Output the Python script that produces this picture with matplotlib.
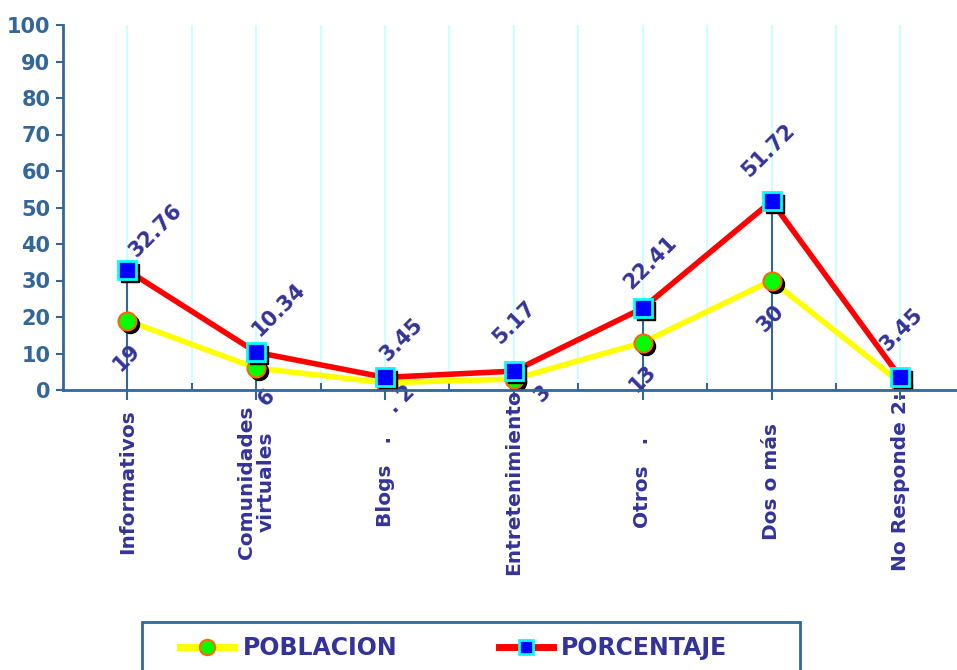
import matplotlib

matplotlib.use("Agg")
import matplotlib.pyplot as plt
import numpy as np
from matplotlib.lines import Line2D
from matplotlib.patches import Rectangle
from matplotlib.transforms import blended_transform_factory, offset_copy

categories = ["Informativos", "Comunidades\nvirtuales", "Blogs   .", "Entretenimiento",
              "Otros   .", "Dos o más", "No Responde 2:"]
poblacion = [19, 6, 2, 3, 13, 30, 2]
porcentaje = [32.76, 10.34, 3.45, 5.17, 22.41, 51.72, 3.45]
pob_labels = ["19", "6", ". 2", "3", "13", "30", ""]
pct_labels = ["32.76", "10.34", "3.45", "5.17", "22.41", "51.72", "3.45"]
yticks = list(range(0, 101, 10))

# label placement in pixels relative to the point (layout only)
pct_offsets = [(28, 40), (23, 43), (16, 38), (0, 49), (8, 46), (-3, 51), (1, 48)]
pob_offsets = [(-1, -37), (10, -30), (16, -17), (29, -15), (0, -36), (-1, -38), (0, -37)]

AXIS = "#336699"
NAVY = "#333399"
GRID = "#CCFFFF"

W, H = 957, 670
fig = plt.figure(figsize=(W / 100, H / 100), dpi=100)
ax = fig.add_axes([63 / W, (H - 390) / H, (W - 63) / W, 365 / H])

x = np.arange(len(categories))
ax.set_xlim(-0.5, len(categories) - 0.56)
ax.set_ylim(0, 100)

# light vertical grid at categories and boundaries
ax.vlines(np.arange(0, len(categories)), 0, 100, color=GRID, lw=1.5, zorder=1)
ax.vlines(np.arange(0.5, len(categories) - 1, 1.0), 0, 100, color=GRID, lw=1.5, zorder=1)

# drop lines
tops = np.maximum(poblacion, porcentaje)
ax.vlines(x, 0, tops, color=AXIS, lw=1.5, zorder=2)

shadow = offset_copy(ax.transData, fig=fig, x=3, y=-3, units="dots")

# POBLACION
ax.plot(x, poblacion, color="#FFFF00", lw=4, zorder=3, solid_joinstyle="round")
ax.plot(x, poblacion, "o", ms=13, color="black", mec="black", transform=shadow, zorder=3.5)
ax.plot(x, poblacion, "o", ms=13, mfc="#00FF00", mec="#FF6600", mew=1.5, zorder=4)

# PORCENTAJE
ax.plot(x, porcentaje, color="#FF0000", lw=4, zorder=5, solid_joinstyle="round")
ax.plot(x, porcentaje, "s", ms=13, color="black", mec="black", transform=shadow, zorder=5.5)
ax.plot(x, porcentaje, "s", ms=13, mfc="#0000FF", mec="#00FFFF", mew=2, zorder=6)

for i in range(len(categories)):
    ax.annotate(pct_labels[i], (x[i], porcentaje[i]), xytext=pct_offsets[i],
                textcoords="offset pixels", rotation=45, ha="center", va="center",
                fontsize=15, fontweight="bold", color=NAVY, zorder=7)
    if pob_labels[i]:
        ax.annotate(pob_labels[i], (x[i], poblacion[i]), xytext=pob_offsets[i],
                    textcoords="offset pixels", rotation=45, ha="center", va="center",
                    fontsize=15, fontweight="bold", color=NAVY, zorder=7)

# axes styling
for s in ["top", "right"]:
    ax.spines[s].set_visible(False)
for s in ["left", "bottom"]:
    ax.spines[s].set_color(AXIS)
    ax.spines[s].set_linewidth(2)
    ax.spines[s].set_zorder(8)

ax.set_yticks(yticks)
ax.tick_params(axis="y", colors=AXIS, length=5, width=1.5, pad=4, labelsize=15)
for t in ax.get_yticklabels():
    t.set_fontweight("bold")

ax.set_xticks(x)
ax.set_xticklabels([])
ax.tick_params(axis="x", which="major", direction="out", length=7, width=1.5, color=AXIS)
ax.set_xticks(np.arange(0.5, len(categories) - 1, 1.0), minor=True)
ax.tick_params(axis="x", which="minor", direction="in", length=5, width=1.5, color=AXIS)

trans = blended_transform_factory(ax.transData, ax.transAxes)
for i, name in enumerate(categories):
    ax.text(x[i], -0.252, name, transform=trans, rotation=90, ha="center", va="center",
            multialignment="center", fontsize=14.5, fontweight="bold", color=NAVY,
            linespacing=1.0)

# legend, with its box drawn separately (it runs off the bottom edge)
fig.patches.append(Rectangle((142 / W, -0.02), (800 - 142) / W, (H - 622) / H + 0.02,
                             transform=fig.transFigure, fill=False,
                             edgecolor=AXIS, lw=2))
handles = [
    Line2D([], [], color="#FFFF00", lw=5, marker="o", ms=11, mfc="#00FF00", mec="#FF6600", mew=1.5),
    Line2D([], [], color="#FF0000", lw=5, marker="s", ms=10, mfc="#0000FF", mec="#00FFFF", mew=2),
]
leg = fig.legend(handles, ["POBLACION", "PORCENTAJE"], ncol=2,
                 loc="center left", bbox_to_anchor=(180 / W, (H - 648) / H),
                 prop={"size": 17, "weight": "bold"}, frameon=False,
                 borderpad=0, handlelength=2.3, handletextpad=0.35, columnspacing=4.3,
                 borderaxespad=0)
for t in leg.get_texts():
    t.set_color(NAVY)

fig.savefig("out.png", dpi=100)
